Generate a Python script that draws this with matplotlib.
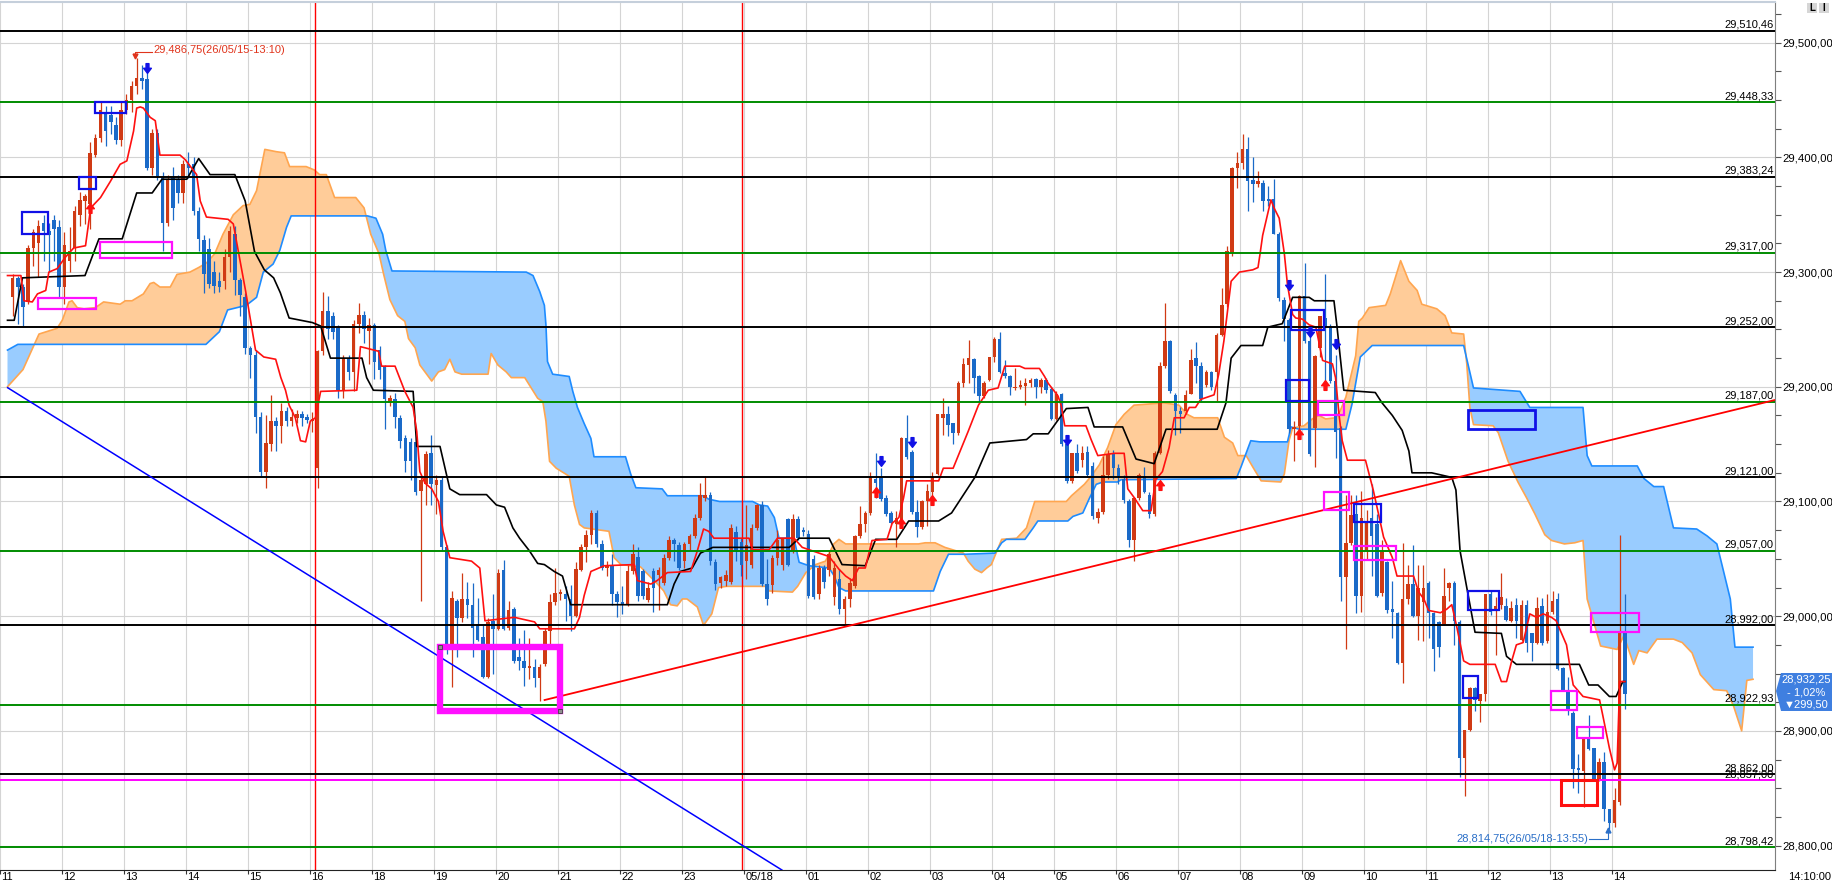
import numpy as np
import matplotlib
matplotlib.use("Agg")
import matplotlib.pyplot as plt
from matplotlib.path import Path
from matplotlib.patches import Rectangle, Polygon

plt.rcParams['font.family'] = ['Liberation Sans', 'DejaVu Sans']

# 5 minute bars, bar 0 = the "11" hour mark, first visible bar is 2
first_bar = 2
opens = [
    29278, 29295, 29287, 29274, 29321, 29325, 29343, 29336, 29345, 29339,
    29287, 29310, 29321, 29350, 29362, 29359, 29402, 29417, 29440, 29437,
    29428, 29415, 29441, 29450, 29462, 29469, 29468, 29391, 29421, 29382,
    29343, 29382, 29380, 29369, 29394, 29394, 29353, 29328, 29320, 29300,
    29292, 29292, 29313, 29333, 29293, 29278, 29234, 29228, 29174, 29126,
    29150, 29170, 29166, 29179, 29170, 29173, 29176, 29174, 29170, 29129,
    29231, 29266, 29262, 29251, 29197, 29225, 29213, 29255, 29263, 29249,
    29254, 29232, 29218, 29186, 29189, 29173, 29155, 29152, 29152, 29109,
    29115, 29142, 29114, 29119, 29060, 28973, 29013, 28998, 29015, 29010,
    28993, 28982, 28947, 28996, 28989, 29040, 28990, 29006, 28964, 28961,
    28955, 28956, 28946, 28958, 28987, 29012, 29019, 29019, 29015, 29000,
    29040, 29060, 29071, 29090, 29063, 29042, 29045, 29019, 29012, 29010,
    29039, 29052, 29039, 29014, 29039, 29036, 29029, 29051, 29066, 29062,
    29048, 29063, 29070, 29086, 29103, 29106, 29047, 29029, 29031, 29030,
    29073, 29065, 29048, 29045, 29077, 29097, 29028, 29027, 29051, 29045,
    29085, 29057, 29085, 29075, 29072, 29050, 29019, 29042, 29040, 29017,
    29032, 29006, 29015, 29026, 29070, 29080, 29090, 29120, 29121, 29103,
    29090, 29080, 29084, 29155, 29143, 29091, 29078, 29100, 29108, 29124,
    29173, 29176, 29168, 29160, 29203, 29219, 29224, 29209, 29192, 29206,
    29226, 29242, 29212, 29209, 29199, 29200, 29201, 29203, 29207, 29200,
    29206, 29198, 29172, 29194, 29150, 29118, 29142, 29136, 29143, 29131,
    29086, 29091, 29123, 29141, 29129, 29120, 29100, 29066, 29103, 29122,
    29106, 29089, 29142, 29218, 29240, 29193, 29179, 29179, 29194, 29225,
    29218, 29202, 29213, 29213, 29245, 29272, 29317, 29391, 29395, 29407,
    29380, 29377, 29378, 29364, 29364, 29333, 29276, 29258, 29163, 29166,
    29279, 29240, 29164, 29234, 29260, 29252, 29205, 29164, 29034, 29064,
    29089, 29018, 29057, 29086, 29080, 29020, 29047, 29006, 29003, 28959,
    29015, 29028, 29000, 29012, 29029, 29003, 28995, 28993, 29025, 29029,
    28995, 28876, 28901, 28937, 28926, 28932, 29019, 29005, 29010, 29009,
    28996, 29010, 28979, 29010, 28985, 28977, 29009, 28978, 29004, 29015,
    28955, 28935, 28916, 28868, 28865, 28894, 28885, 28857, 28873, 28832,
    28820, 28838, 28986]
highs = [
    29298, 29297, 29290, 29324, 29338, 29345, 29350, 29343, 29350, 29345,
    29335, 29339, 29358, 29370, 29368, 29413, 29420, 29448, 29445, 29445,
    29435, 29449, 29455, 29467, 29486.75, 29481, 29478, 29425, 29425, 29387,
    29385, 29392, 29385, 29398, 29405, 29400, 29357, 29332, 29330, 29310,
    29300, 29320, 29340, 29340, 29295, 29282, 29236, 29232, 29178, 29175,
    29193, 29174, 29186, 29182, 29181, 29180, 29179, 29176, 29178, 29232,
    29283, 29279, 29265, 29254, 29228, 29228, 29258, 29273, 29266, 29260,
    29256, 29236, 29219, 29193, 29195, 29175, 29158, 29155, 29155, 29121,
    29144, 29158, 29123, 29121, 29062, 29022, 29015, 29038, 29030, 29029,
    29016, 28992, 28998, 29019, 29041, 29049, 29013, 29008, 28981, 28988,
    28981, 28963, 28958, 28990, 29019, 29042, 29024, 29026, 29027, 29047,
    29063, 29075, 29093, 29093, 29066, 29048, 29054, 29022, 29026, 29045,
    29063, 29060, 29041, 29030, 29042, 29043, 29054, 29070, 29068, 29065,
    29065, 29072, 29089, 29116, 29122, 29108, 29050, 29035, 29040, 29080,
    29079, 29068, 29097, 29080, 29098, 29100, 29050, 29053, 29075, 29068,
    29086, 29089, 29087, 29078, 29075, 29053, 29045, 29045, 29057, 29048,
    29041, 29018, 29033, 29071, 29096, 29092, 29126, 29142, 29129, 29106,
    29092, 29092, 29156, 29175, 29145, 29101, 29101, 29115, 29126, 29176,
    29190, 29183, 29168, 29205, 29225, 29241, 29225, 29210, 29205, 29226,
    29243, 29248, 29223, 29210, 29216, 29206, 29208, 29208, 29208, 29208,
    29208, 29200, 29196, 29195, 29157, 29142, 29150, 29148, 29148, 29134,
    29094, 29140, 29145, 29145, 29133, 29123, 29102, 29104, 29125, 29130,
    29108, 29144, 29222, 29273, 29241, 29195, 29182, 29197, 29233, 29239,
    29222, 29215, 29214, 29247, 29286, 29323, 29392, 29405, 29420, 29418,
    29400, 29388, 29380, 29375, 29381, 29335, 29278, 29260, 29170, 29280,
    29308, 29252, 29228, 29262, 29298, 29255, 29228, 29166, 29106, 29106,
    29106, 29109, 29093, 29115, 29089, 29066, 29048, 29031, 29004, 29064,
    29045, 29062, 29045, 29045, 29031, 29004, 28996, 29042, 29030, 29031,
    28997, 28901, 28938, 28938, 28932, 29019, 29022, 29017, 29038, 29016,
    29013, 29016, 29014, 29014, 28985, 29017, 29016, 29019, 29022, 29020,
    28956, 28947, 28917, 28880, 28895, 28914, 28885, 28876, 28882, 28832,
    28850, 29071, 29019]
lows = [
    29262, 29255, 29253, 29272, 29305, 29296, 29310, 29300, 29310, 29277,
    29272, 29300, 29310, 29340, 29342, 29338, 29400, 29413, 29410, 29420,
    29412, 29410, 29438, 29440, 29455, 29460, 29389, 29385, 29380, 29318,
    29340, 29345, 29360, 29360, 29382, 29350, 29318, 29282, 29286, 29282,
    29283, 29285, 29300, 29280, 29262, 29229, 29208, 29160, 29122, 29112,
    29144, 29144, 29151, 29166, 29166, 29168, 29166, 29168, 29161, 29112,
    29228, 29242, 29242, 29190, 29190, 29206, 29196, 29247, 29238, 29220,
    29207, 29207, 29163, 29183, 29164, 29147, 29126, 29119, 29106, 29013,
    29097, 29097, 29089, 29057, 28967, 28938, 28964, 28995, 28998, 28964,
    28978, 28946, 28946, 28950, 28988, 28988, 28988, 28959, 28953, 28939,
    28945, 28938, 28926, 28957, 28974, 29010, 29014, 28996, 28987, 28999,
    29039, 29047, 29063, 29060, 29040, 29035, 29010, 28999, 29002, 29009,
    29037, 29013, 29015, 29012, 29004, 29005, 29027, 29049, 29048, 29040,
    29042, 29058, 29068, 29084, 29100, 29045, 29023, 29025, 29026, 29028,
    29048, 29035, 29032, 29042, 29075, 29026, 29010, 29020, 29045, 29040,
    29044, 29055, 29066, 29070, 29016, 29015, 29015, 29025, 29035, 29010,
    29002, 28993, 29008, 29025, 29068, 29073, 29088, 29103, 29100, 29087,
    29080, 29060, 29080, 29137, 29089, 29069, 29076, 29079, 29105, 29123,
    29158, 29157, 29150, 29158, 29200, 29203, 29195, 29187, 29190, 29205,
    29222, 29212, 29208, 29193, 29197, 29198, 29184, 29200, 29190, 29195,
    29195, 29171, 29171, 29148, 29116, 29116, 29125, 29130, 29121, 29085,
    29081, 29089, 29120, 29120, 29115, 29099, 29060, 29048, 29101, 29107,
    29086, 29087, 29141, 29216, 29195, 29158, 29160, 29176, 29194, 29203,
    29188, 29200, 29197, 29188, 29244, 29270, 29314, 29373, 29390, 29353,
    29361, 29374, 29353, 29358, 29333, 29275, 29240, 29160, 29135, 29160,
    29238, 29140, 29130, 29226, 29202, 29203, 29138, 29013, 28971, 29062,
    29003, 29004, 29050, 29035, 29017, 29018, 29003, 28981, 28958, 28942,
    29011, 28999, 28979, 28978, 28981, 28952, 28964, 28992, 29013, 28975,
    28860, 28843, 28900, 28917, 28908, 28926, 29001, 28966, 29006, 28996,
    28995, 28981, 28978, 28969, 28961, 28976, 28975, 28977, 29002, 28953,
    28935, 28914, 28850, 28846, 28834, 28883, 28856, 28856, 28821, 28814.75,
    28816, 28835, 28919]
closes = [
    29295, 29287, 29270, 29321, 29335, 29340, 29336, 29332, 29338, 29287,
    29324, 29318, 29353, 29363, 29366, 29404, 29417, 29441, 29423, 29431,
    29415, 29441, 29450, 29462, 29469, 29467, 29391, 29421, 29384, 29343,
    29381, 29356, 29369, 29394, 29391, 29353, 29329, 29298, 29290, 29288,
    29287, 29313, 29336, 29293, 29280, 29234, 29228, 29174, 29126, 29151,
    29170, 29166, 29179, 29170, 29174, 29176, 29173, 29171, 29172, 29231,
    29266, 29250, 29248, 29197, 29225, 29213, 29255, 29263, 29250, 29254,
    29222, 29215, 29189, 29190, 29174, 29153, 29135, 29135, 29108, 29119,
    29141, 29115, 29119, 29060, 28973, 29016, 28998, 29015, 29010, 28990,
    28979, 28947, 28995, 28989, 29038, 28989, 29005, 28961, 28961, 28955,
    28957, 28946, 28956, 28987, 29012, 29020, 29021, 29015, 29000, 29041,
    29060, 29071, 29090, 29063, 29042, 29044, 29019, 29012, 29011, 29039,
    29054, 29018, 29018, 29025, 29025, 29040, 29051, 29066, 29063, 29042,
    29063, 29070, 29086, 29106, 29106, 29048, 29028, 29034, 29036, 29077,
    29058, 29045, 29062, 29077, 29097, 29028, 29015, 29051, 29066, 29067,
    29045, 29085, 29068, 29073, 29018, 29017, 29042, 29030, 29054, 29042,
    29006, 29015, 29029, 29070, 29080, 29090, 29121, 29116, 29102, 29089,
    29081, 29086, 29155, 29139, 29091, 29078, 29100, 29109, 29121, 29176,
    29176, 29167, 29160, 29203, 29220, 29225, 29208, 29192, 29203, 29226,
    29242, 29213, 29209, 29200, 29200, 29202, 29203, 29206, 29200, 29206,
    29197, 29172, 29194, 29150, 29118, 29142, 29127, 29142, 29123, 29087,
    29091, 29123, 29141, 29129, 29122, 29101, 29066, 29103, 29123, 29108,
    29089, 29142, 29218, 29240, 29196, 29179, 29176, 29193, 29223, 29218,
    29189, 29213, 29200, 29245, 29271, 29318, 29391, 29395, 29407, 29379,
    29377, 29379, 29362, 29362, 29333, 29277, 29259, 29163, 29165, 29279,
    29240, 29141, 29227, 29262, 29252, 29205, 29161, 29034, 29064, 29088,
    29018, 29086, 29083, 29070, 29018, 29056, 29005, 29004, 28959, 29015,
    29028, 29000, 29025, 29025, 29003, 28971, 28973, 29018, 29029, 28996,
    28876, 28901, 28937, 28927, 28932, 29019, 29004, 29009, 29017, 28997,
    29007, 28996, 29010, 28977, 28977, 29007, 28977, 29004, 29013, 28954,
    28936, 28917, 28867, 28866, 28894, 28884, 28857, 28873, 28832, 28820,
    28840, 28986, 28932.25]

hour_labels = ["11", "12", "13", "14", "15", "16", "18", "19", "20", "21", "22", "23",
               "05/18", "01", "02", "03", "04", "05", "06", "07", "08", "09", "10",
               "11", "12", "13", "14"]
session_breaks = [60.5, 143.1]

# ichimoku lines as (bar, price) vertices
tenkan = [
    (1, 29297), (3.6, 29297), (4.2, 29275), (5.8, 29274), (6.8, 29281), (8.4, 29284), (9, 29300),
    (10.6, 29303), (12.2, 29313), (13.8, 29321), (16.1, 29323), (17.1, 29356), (19, 29365),
    (20.9, 29379), (22.8, 29394), (24.1, 29397), (25.4, 29423), (26, 29443), (26.7, 29444),
    (27.3, 29443), (28.6, 29435), (29.6, 29432), (30.5, 29402), (34.4, 29402), (35.4, 29398),
    (37.6, 29385), (38.3, 29362), (39.5, 29348), (43.7, 29346), (44.7, 29342), (46, 29310),
    (47.1, 29283), (48.4, 29248), (49, 29232), (50.6, 29226), (52.9, 29224), (53.9, 29208),
    (54.8, 29197), (55.5, 29184), (56.7, 29173), (57.7, 29153), (58.7, 29152), (59.6, 29170),
    (60.6, 29173), (61.6, 29196), (68.6, 29197), (69.3, 29235), (72.8, 29231), (73.4, 29218),
    (76, 29218), (77.9, 29196), (79.5, 29182), (80.2, 29161), (80.8, 29126), (81.8, 29116),
    (83.1, 29111), (84.4, 29100), (85.3, 29074), (86.6, 29051), (90.8, 29048), (92.4, 29042),
    (93.4, 28996), (99.1, 28999), (103, 28995), (104, 28989), (110.7, 28989), (111.7, 28999),
    (112.6, 29018), (113.9, 29039), (116.5, 29044), (122.3, 29045), (122.9, 29031), (125.5, 29028),
    (126.7, 29031), (128.7, 29038), (133.2, 29039), (134.5, 29057), (135.7, 29076), (136.7, 29074),
    (137.7, 29068), (144.5, 29068), (145.2, 29058), (148.4, 29058), (150, 29068), (153.2, 29068),
    (154.8, 29060), (160, 29052), (161.9, 29041), (163.2, 29035), (164.5, 29031), (165.7, 29042),
    (167, 29042), (168.3, 29066), (171.2, 29067), (172.2, 29081), (173.5, 29086), (174.4, 29103),
    (175, 29118), (181.2, 29118), (182.1, 29129), (184, 29129), (185, 29140), (186.9, 29161),
    (188.9, 29184), (190.8, 29197), (192.7, 29199), (194, 29218), (196.9, 29218), (197.9, 29216),
    (200.7, 29216), (201.7, 29209), (202.4, 29203), (204.3, 29192), (204.9, 29184), (205.6, 29166),
    (209.7, 29166), (210.7, 29154), (212, 29140), (215.2, 29142), (217.1, 29142), (217.8, 29111),
    (219.1, 29103), (220.7, 29092), (222.3, 29092), (223.2, 29119), (224.5, 29126), (225.8, 29147),
    (226.8, 29173), (228.7, 29173), (229.7, 29182), (230.9, 29182), (231.9, 29189), (234.5, 29193),
    (235.4, 29211), (236.4, 29240), (237.8, 29292), (239.4, 29300), (242, 29302), (243, 29304),
    (243.4, 29316), (243.9, 29332), (245.5, 29363), (246.1, 29356), (247.1, 29347), (248.1, 29316),
    (248.7, 29289), (249.7, 29263), (250.3, 29260), (251.6, 29259), (252.9, 29254), (254.2, 29252),
    (255.5, 29223), (257.4, 29220), (258, 29208), (258.7, 29175), (259.3, 29153), (260.3, 29136),
    (263.8, 29136), (264.5, 29124), (265.3, 29110), (267.3, 29069), (269, 29051), (269.9, 29035),
    (273.1, 29035), (274.1, 29021), (275.1, 29015), (276, 29005), (278.3, 29003), (279.5, 29006),
    (280.5, 29010), (281.5, 28990), (282.8, 28961), (284, 28958), (288.9, 28958), (290.1, 28943),
    (291.1, 28943), (292.1, 28961), (293, 28975), (294.3, 28977), (295.6, 29002), (296.9, 28999),
    (298.2, 29002), (299.8, 28999), (300.7, 28996), (302.7, 28975), (303.3, 28958), (304, 28940),
    (305.9, 28930), (309.1, 28927), (309.7, 28914), (311, 28885), (312, 28866), (312.5, 28872),
    (313, 28943), (314, 28943)]
kijun = [
    (1, 29258), (2.3, 29258), (3.9, 29295), (16, 29297), (18.7, 29329), (23.2, 29329), (26, 29369),
    (29, 29369), (30.9, 29381), (35.7, 29381), (38, 29399), (40.2, 29385), (45, 29385), (47, 29362),
    (48.8, 29318), (50.7, 29302), (52.5, 29295), (53.8, 29282), (55.5, 29260), (60, 29256),
    (61.6, 29253), (63.5, 29225), (69.6, 29225), (70.5, 29208), (71.8, 29197), (79.5, 29196),
    (80.2, 29148), (84.7, 29148), (86.6, 29111), (88.5, 29106), (93.7, 29106), (95.6, 29097),
    (97.2, 29095), (98.8, 29077), (100.1, 29068), (102, 29057), (103.6, 29046), (104.9, 29045),
    (106.8, 29039), (108.4, 29035), (110, 29010), (128.7, 29010), (130, 29028), (131.2, 29039),
    (133.5, 29042), (135.1, 29055), (137.5, 29060), (152.3, 29060), (154.2, 29068), (160, 29068),
    (162.5, 29045), (167, 29044), (169, 29067), (173.1, 29067), (175.4, 29083), (181.2, 29083),
    (183.7, 29090), (188.2, 29121), (191.1, 29151), (198.2, 29154), (199.5, 29159), (202.4, 29159),
    (205.9, 29181), (210.1, 29182), (211.3, 29165), (216.8, 29165), (219.4, 29137), (222.9, 29133),
    (225.2, 29163), (235.1, 29163), (236.8, 29186), (237.8, 29225), (239.7, 29236), (243.9, 29236),
    (244.9, 29252), (247.7, 29255), (249.7, 29278), (252.9, 29278), (253.9, 29275), (257.7, 29275),
    (258.3, 29252), (259.6, 29197), (265.7, 29195), (267, 29186), (269, 29175), (270.9, 29162),
    (272.2, 29144), (272.8, 29125), (276.6, 29125), (280.5, 29121), (281.3, 29110), (282.1, 29057),
    (283.4, 29025), (285, 28986), (290.1, 28985), (291.1, 28965), (293, 28958), (305.2, 28958),
    (307, 28940), (308.8, 28940), (311, 28930), (312.3, 28930), (313.6, 28943), (314, 28943)]
span_a = [
    (1, 29200), (4, 29215), (6, 29235), (7.1, 29246), (10.6, 29251), (11.6, 29258), (12.9, 29274),
    (13.5, 29275), (14.5, 29269), (15.8, 29268), (18, 29269), (19.6, 29274), (22.8, 29272),
    (23.8, 29275), (25.1, 29275), (27.3, 29281), (28.6, 29290), (29.3, 29291), (30.5, 29287),
    (32.5, 29287), (33.8, 29298), (36.3, 29300), (38, 29304), (39.5, 29308), (41.1, 29316),
    (42.7, 29333), (44.7, 29350), (46.6, 29358), (47.9, 29359), (49.2, 29371), (50.8, 29407),
    (53, 29405), (54.6, 29404), (55.6, 29392), (58.8, 29392), (60.4, 29389), (61.4, 29385),
    (62.7, 29385), (64.3, 29365), (68.4, 29365), (70, 29356), (71.3, 29333), (72.9, 29316),
    (73.8, 29298), (75, 29276), (76.5, 29262), (77.9, 29257), (78.6, 29242), (79.9, 29234),
    (80.8, 29219), (83.1, 29205), (84.4, 29213), (85.6, 29215), (86.6, 29224), (87.6, 29213),
    (88.9, 29211), (94, 29211), (94.6, 29229), (95.9, 29219), (97.5, 29213), (98.5, 29208),
    (101.1, 29208), (103.6, 29190), (104.6, 29187), (105.2, 29170), (105.9, 29135), (107.2, 29129),
    (109.7, 29122), (110.7, 29097), (111.7, 29080), (112.6, 29077), (117.4, 29074), (118.4, 29051),
    (119.7, 29045), (123.5, 29043), (126.8, 29028), (128, 29022), (129.3, 29010), (130.6, 29009),
    (131.6, 29015), (132.5, 29015), (134.5, 29008), (135.7, 28992), (137.3, 29002), (138.6, 29025),
    (140.1, 29026), (147.8, 29026), (148.4, 29022), (152.9, 29021), (153.9, 29026), (155.5, 29038),
    (157.4, 29045), (159.3, 29048), (160.9, 29063), (161.9, 29067), (163.2, 29063), (177.3, 29063),
    (178.6, 29064), (180.5, 29064), (182.4, 29060), (186, 29055), (186.9, 29048), (188.2, 29041),
    (189.5, 29038), (190.5, 29042), (191.4, 29045), (193.4, 29067), (196.3, 29068), (198.2, 29077),
    (199.8, 29100), (205.9, 29100), (206.9, 29105), (209.4, 29115), (210.7, 29122), (212.3, 29132),
    (213.9, 29147), (215.5, 29167), (217.1, 29176), (219, 29184), (224.8, 29186), (227.7, 29184),
    (229.3, 29176), (230.6, 29173), (235.2, 29173), (236.5, 29156), (238.1, 29151), (239.1, 29140),
    (240.7, 29140), (242, 29130), (243.6, 29118), (247.4, 29117), (248.1, 29124), (249, 29153),
    (249.7, 29164), (251.9, 29166), (253.5, 29172), (254.8, 29175), (256.1, 29172), (258, 29173),
    (258.9, 29179), (260, 29191), (260.9, 29208), (261.9, 29227), (262.5, 29257), (263.2, 29260),
    (264.5, 29269), (267.7, 29271), (268.6, 29281), (270.6, 29310), (272.2, 29292), (273.8, 29284),
    (274.7, 29272), (277.6, 29268), (279.2, 29262), (280.5, 29247), (282.8, 29246), (283.4, 29220),
    (284, 29182), (284.7, 29167), (288.5, 29166), (289.5, 29160), (291.4, 29135), (293.3, 29117),
    (295, 29103), (296.6, 29089), (298.5, 29071), (299.8, 29066), (302.3, 29063), (304.3, 29064),
    (305.9, 29066), (306.7, 29015), (309.3, 28974), (312.5, 28971), (313.8, 28983), (315.7, 28958),
    (316.7, 28970), (318.3, 28968), (320.2, 28980), (323.4, 28980), (325.1, 28977), (327, 28968),
    (328.6, 28949), (331.2, 28936), (333.7, 28935), (335, 28922), (336.6, 28900), (337.6, 28944),
    (338.8, 28945)]
span_b = [
    (1, 29232), (3, 29237), (39.4, 29237), (42, 29248), (43.6, 29267), (47.2, 29271), (49.2, 29278),
    (50.5, 29300), (52.4, 29307), (53.7, 29319), (55, 29339), (55.9, 29349), (70.7, 29349),
    (72.3, 29347), (73.6, 29333), (74.2, 29319), (75.4, 29301), (101.4, 29300), (102.7, 29297),
    (104, 29283), (104.9, 29271), (105.2, 29254), (105.5, 29222), (106.5, 29211), (109.7, 29209),
    (110.4, 29196), (111.3, 29182), (112.6, 29168), (113.9, 29155), (114.5, 29139), (120.6, 29139),
    (121.6, 29124), (122.6, 29112), (127.7, 29111), (128.7, 29105), (135.7, 29105), (136.7, 29102),
    (138.8, 29100), (145.2, 29100), (146.5, 29097), (148.1, 29096), (149.4, 29086), (150.3, 29068),
    (153.2, 29068), (154.2, 29047), (156.1, 29044), (160, 29042), (161, 29035), (161.9, 29025),
    (163.2, 29022), (180.2, 29022), (181.5, 29039), (183.1, 29054), (186.3, 29054), (192.1, 29055),
    (193.4, 29064), (194.3, 29067), (197.9, 29067), (199.5, 29077), (200.4, 29083), (206.2, 29083),
    (207.2, 29087), (209.1, 29090), (210.4, 29103), (211.7, 29115), (213, 29117), (215.8, 29117),
    (216.5, 29119), (238.8, 29120), (239.7, 29130), (241.6, 29153), (243.3, 29152), (248.7, 29152),
    (249.4, 29165), (251, 29163), (260, 29163), (261.2, 29185), (262.8, 29226), (265.1, 29236),
    (282.8, 29236), (284.7, 29199), (293.7, 29196), (295.6, 29182), (305.9, 29182), (306.7, 29140),
    (307.6, 29131), (316.4, 29131), (317.7, 29120), (319.6, 29113), (321.5, 29113), (323.4, 29077),
    (327.9, 29076), (329.9, 29070), (331.8, 29063), (334.4, 29015), (335.3, 28973), (338.8, 28973)]

# horizontal levels drawn on the chart
level_prices = [29510.46, 29448.33, 29383.24, 29317.00, 29252.00, 29187.00, 29121.00,
                29057.00, 28992.00, 28922.93, 28862.00, 28857.00, 28798.42]
level_kinds = ["k", "g", "k", "g", "k", "g", "k", "g", "k", "g", "k", "m", "g"]

# trend lines (bar, price)
blue_trend = [(1.03, 29199.2), (150.86, 28778.7)]
red_trend = [(104.94, 28926.9), (343.05, 29188.5)]

# boxes: bar from, bar to, price top, price bottom
blue_boxes = [(3.79, 8.93, 29352.1, 29332.9), (14.85, 18.04, 29383.2, 29372.4),
              (17.93, 23.96, 29448.6, 29439.0), (249.45, 255.76, 29266.9, 29249.5),
              (248.48, 252.8, 29205.9, 29187.9), (261.66, 266.73, 29097.8, 29082.4),
              (283.63, 289.72, 29022.2, 29005.4), (282.67, 285.56, 28948.1, 28928.9)]
big_blue_box = (283.63, 296.6, 29180.0, 29162.9)
magenta_boxes = [(18.89, 32.82, 29326.5, 29312.0), (6.81, 18.04, 29277.7, 29267.6),
                 (254.53, 259.66, 29187.6, 29175.4), (255.69, 260.62, 29108.5, 29092.6),
                 (261.59, 269.68, 29061.5, 29049.0), (307.4, 316.71, 29003.1, 28986.5),
                 (299.68, 304.69, 28935.0, 28918.2), (304.69, 309.7, 28903.7, 28894.1)]
big_magenta_box = (84.7, 107.9, 28973.0, 28917.0)
red_box = (301.61, 308.55, 28857.0, 28835.2)

# signal arrows (bar, price)
sell_marks = [(28, 29478), (170, 29135), (176, 29152), (206, 29154), (249, 29289),
              (253, 29248), (258, 29237)]
buy_marks = [(17, 29356), (169, 29108), (174, 29081), (180, 29101), (224, 29114),
             (251, 29159), (256, 29202)]

high_bar, high_price, high_text = 26, 29486.75, "29,486,75(26/05/15-13:10)"
low_bar, low_price, low_text = 311, 28814.75, "28,814,75(26/05/18-13:55)"
last_text = ["28,932,25", "- 1,02%", "\u25bc299,50"]
time_text = "14:10:00"

UP = "#d03a14"
DN = "#1a6ac8"
LEVEL_COL = {"k": "#000000", "g": "#008c00", "m": "#ff00ff"}


def fmt(v):
    return f"{v:,.2f}".replace(".", ",")


W, H = 1832, 883
fig = plt.figure(figsize=(W / 100, H / 100), dpi=100)
ax = fig.add_axes([0, 13 / H, 1775 / W, 868 / H])
x_lo, x_hi = 1.03, 343.05
y_lo, y_hi = 28778.7, 29535.5
ax.set_xlim(x_lo, x_hi)
ax.set_ylim(y_lo, y_hi)

# grid
hour_pos = [12 * k - 0.45 for k in range(len(hour_labels))]
for xp in hour_pos:
    ax.axvline(xp, color="#d4d4d4", lw=0.8, zorder=0)
for yp in range(28800, 29600, 100):
    ax.axhline(yp, color="#d4d4d4", lw=0.8, zorder=0)
for xp in session_breaks:
    ax.axvline(xp, color="#ff0000", lw=1.0, zorder=2.5)

# cloud
sa = np.array(span_a)
sb = np.array(span_b)
xs = np.linspace(max(sa[0, 0], sb[0, 0]), min(sa[-1, 0], sb[-1, 0]), 4000)
ya = np.interp(xs, sa[:, 0], sa[:, 1])
yb = np.interp(xs, sb[:, 0], sb[:, 1])
ax.fill_between(xs, ya, yb, where=ya >= yb, interpolate=True, color="#ffcc99", lw=0, zorder=1)
ax.fill_between(xs, ya, yb, where=ya < yb, interpolate=True, color="#99ccff", lw=0, zorder=1)
ax.plot(sa[:, 0], sa[:, 1], color="#ffa650", lw=1.2, zorder=2)
ax.plot(sb[:, 0], sb[:, 1], color="#1e8cff", lw=1.2, zorder=2)

# candles
o = np.array(opens, float)
h = np.array(highs, float)
l = np.array(lows, float)
c = np.array(closes, float)
bars = np.arange(first_bar, first_bar + len(o))
cols = np.where(c >= o, UP, DN)
ax.vlines(bars, l, h, colors=cols, lw=0.9, zorder=3)
body_lo = np.minimum(o, c)
body_h = np.maximum(np.abs(c - o), 1.0)
ax.bar(bars, body_h, bottom=body_lo, width=0.68, color=cols, lw=0, zorder=3)

# conversion / base lines
tk = np.array(tenkan)
kj = np.array(kijun)
ax.plot(kj[:, 0], kj[:, 1], color="black", lw=1.2, zorder=4)
ax.plot(tk[:, 0], tk[:, 1], color="#ff1010", lw=1.2, zorder=4)

# horizontal levels with labels
for p, k in zip(level_prices, level_kinds):
    ax.axhline(p, color=LEVEL_COL[k], lw=1.4, zorder=5)
    ax.annotate(fmt(p), xy=(1, p), xycoords=("axes fraction", "data"), xytext=(-1, 0.6),
                textcoords="offset points", ha="right", va="bottom", fontsize=8,
                color="black", zorder=8, annotation_clip=False)

# trend lines
bt = np.array(blue_trend)
rt = np.array(red_trend)
ax.plot(bt[:, 0], bt[:, 1], color="#0000ff", lw=1.1, zorder=6)
ax.plot(rt[:, 0], rt[:, 1], color="#ff0000", lw=1.3, zorder=6)


def box(b, color, lw):
    x0, x1, top, bot = b
    ax.add_patch(Rectangle((x0, bot), x1 - x0, top - bot, fill=False, ec=color, lw=lw,
                           joinstyle="miter", zorder=7))


for b in blue_boxes:
    box(b, "#1010e6", 1.6)
box(big_blue_box, "#1010e6", 2.0)
for b in magenta_boxes:
    box(b, "#ff10ff", 1.6)
box(big_magenta_box, "#ff10ff", 4.6)
box(red_box, "#ff1010", 2.2)
ax.plot([big_magenta_box[0], big_magenta_box[1]], [big_magenta_box[2], big_magenta_box[3]],
        ls="none", marker="s", ms=3.5, mfc="#909090", mec="#404040", mew=0.6, zorder=8)

# signal arrows
dverts = [(-0.3, 1), (0.3, 1), (0.3, 0.05), (0.8, 0.05), (0, -1), (-0.8, 0.05), (-0.3, 0.05),
          (-0.3, 1), (0, 0)]
down_arrow = Path(dverts, closed=True)
up_arrow = Path([(x, -y) for x, y in dverts], closed=True)
sm = np.array(sell_marks, float)
bm = np.array(buy_marks, float)
ax.plot(sm[:, 0], sm[:, 1], ls="none", marker=down_arrow, ms=7, mfc="#1010e6", mec="#1010e6",
        zorder=8)
ax.plot(bm[:, 0], bm[:, 1], ls="none", marker=up_arrow, ms=7, mfc="#ff1010", mec="#ff1010",
        zorder=8)

# high / low annotations
ax.plot([high_bar - 0.25, high_bar - 0.25, high_bar + 3.0],
        [high_price + 1.0, high_price + 5.5, high_price + 5.5], color="#e0341c", lw=0.8, zorder=8)
ax.plot([high_bar - 0.25], [high_price + 1.6], marker="v", ms=3.5, color="#e0341c", zorder=8)
ax.text(high_bar + 3.3, high_price + 6.8, high_text, color="#e0341c", fontsize=8,
        ha="left", va="center", zorder=8)
ax.plot([low_bar - 4.0, low_bar - 0.35, low_bar - 0.35],
        [low_price - 9.3, low_price - 9.3, low_price - 1.0], color="#2a6fc8", lw=0.8, zorder=8)
ax.plot([low_bar - 0.35], [low_price - 1.6], marker="^", ms=3.5, color="#2a6fc8", zorder=8)
ax.text(low_bar - 4.1, low_price - 9.0, low_text, color="#2a6fc8", fontsize=8,
        ha="right", va="center", zorder=8)

# axes styling
ax.yaxis.tick_right()
ax.set_yticks(np.arange(28800, 29501, 100))
ax.set_yticklabels([fmt(v) for v in np.arange(28800, 29501, 100)])
ax.set_yticks(np.arange(28800, 29526, 25), minor=True)
ax.tick_params(axis="y", which="both", length=4, width=0.8, color="#555555", pad=1,
               labelsize=8.2)
ax.set_xticks(hour_pos)
ax.set_xticklabels([""] * len(hour_pos))
ax.tick_params(axis="x", length=3, width=0.8, color="#333333", pad=0)
for xp, lab in zip(hour_pos, hour_labels):
    ax.annotate(lab, xy=(xp, y_lo), xycoords="data", xytext=(0.8, -1.5),
                textcoords="offset points", ha="left", va="top", fontsize=8,
                annotation_clip=False)
ax.spines["left"].set_visible(False)
ax.spines["top"].set_color("#c5cfdb")
ax.spines["top"].set_linewidth(1.5)
ax.spines["right"].set_color("#7f7f7f")
ax.spines["bottom"].set_color("#222222")

# last price tag
tag = np.array([(1776, 691), (1781, 673), (1832, 673), (1832, 711), (1781, 711)], float)
tag_fig = np.column_stack([tag[:, 0] / W, 1 - tag[:, 1] / H])
fig.patches.append(Polygon(tag_fig, closed=True, fc="#3f7fe0", ec="none",
                           transform=fig.transFigure, zorder=10))
for i, t in enumerate(last_text):
    fig.text(1806 / W, 1 - (680 + 12.3 * i) / H, t, color="white", fontsize=8,
             ha="center", va="center", zorder=11)

fig.text(1831 / W, 1 - 877 / H, time_text, fontsize=8, ha="right", va="center")

# small buttons in the corner
for x0, lab in [(1807, "L"), (1819, "I")]:
    fig.patches.append(Rectangle((x0 / W, 1 - 13 / H), 10 / W, 10 / H, fc="#d6d6d6",
                                 ec="none", transform=fig.transFigure))
    fig.text((x0 + 5) / W, 1 - 8 / H, lab, fontsize=7, fontweight="bold",
             ha="center", va="center")

fig.savefig("out.png", dpi=100)
